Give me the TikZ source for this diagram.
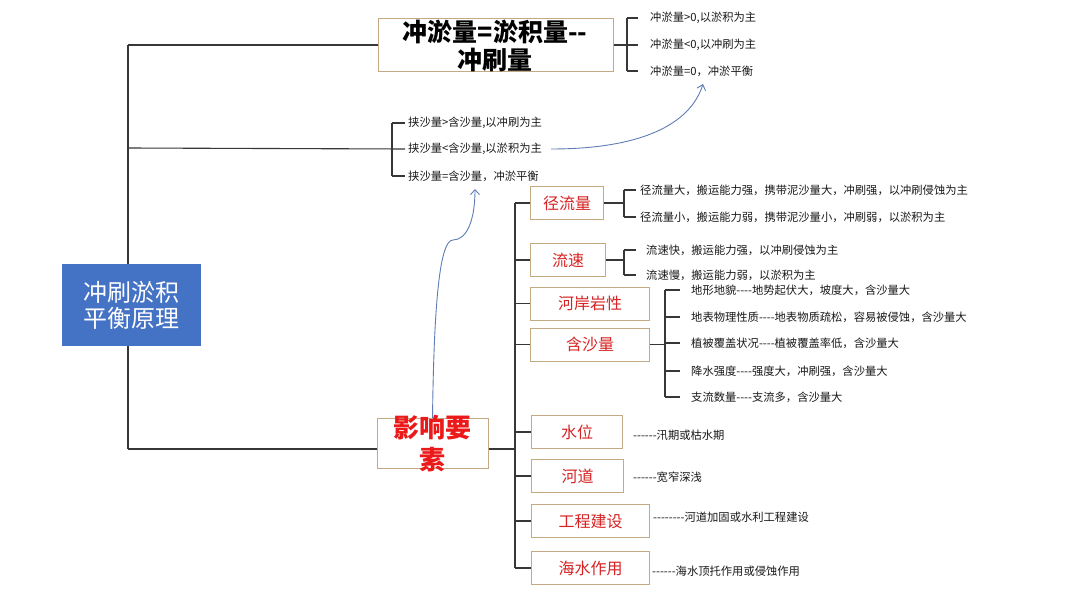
\documentclass[tikz,border=0pt]{standalone}
\usepackage{fontspec}
\setmainfont{Noto Sans CJK SC}
\usetikzlibrary{arrows.meta}
\newcommand\hh{\mbox{-}}
\definecolor{rootblue}{RGB}{68,114,196}
\definecolor{boxedge}{RGB}{196,170,130}
\definecolor{redtxt}{RGB}{215,35,35}
\definecolor{bigred}{RGB}{235,25,25}
\definecolor{arrowblue}{RGB}{95,125,180}
\definecolor{linegray}{RGB}{55,55,55}
\begin{document}
\begin{tikzpicture}[x=1pt,y=-1pt,
  conn/.style={draw=linegray, line width=1.1pt},
  tanbox/.style={draw=boxedge, line width=1pt, fill=white, inner sep=0pt},
  kid/.style={tanbox, text=redtxt, font=\fontsize{16}{18}\selectfont, anchor=west, minimum height=33pt},
  leaf/.style={anchor=west, inner sep=0pt, font=\fontsize{11.3}{12}\selectfont, text=black!90},
  flow/.style={draw=arrowblue, line width=0.9pt, -{Straight Barb[length=5pt,width=9pt]}},
]
\fill[white] (0,0) rectangle (1080,608);
\useasboundingbox (0,0) rectangle (1080,608);

% trunk coordinates
\coordinate (t1) at (128,45);
\coordinate (t2) at (128,148);
\coordinate (t3) at (128,449);

% root
\node[fill=rootblue, minimum width=139pt, minimum height=82pt, inner sep=0pt, text=white, align=center, font=\fontsize{24}{26}\selectfont] (root) at (131.5,305) {冲刷淤积\\平衡原理};

% top box
\node[tanbox, minimum width=235pt, minimum height=53pt] (eq) at (495.5,45) {};
\node[font=\bfseries\fontsize{25}{28}\selectfont, align=center, inner sep=0pt] (eqtext) at (495,46) {冲淤量=淤积量\hh\hh{}\\冲刷量};

% influence box
\node[tanbox, minimum width=111pt, minimum height=50pt] (inf) at (432.5,443.5) {};

% trunk lines
\draw[conn] (t1) -- (root.north -| t1);
\draw[conn] (root.south -| t1) -- (t3);
\draw[conn] (t1) -- (eq.west);
\draw[conn] (t3) -- (inf.west |- t3);

% top bracket
\coordinate (b1) at (627,45);
\node[leaf] (e1) at (650,18) {冲淤量>0,以淤积为主};
\node[leaf] (e2) at (650,45) {冲淤量<0,以冲刷为主};
\node[leaf] (e3) at (650,71) {冲淤量=0，冲淤平衡};
\draw[conn] (eq.east) -- (b1);
\draw[conn] (e1.west -| b1) -- (e3.west -| b1);
\foreach \n in {e1,e2,e3} \draw[conn] (\n.west -| b1) -- ([xshift=-12pt]\n.west);

% second bracket
\coordinate (b2) at (392,148);
\node[leaf] (s1) at (408,123) {挟沙量>含沙量,以冲刷为主};
\node[leaf] (s2) at (408,149) {挟沙量<含沙量,以淤积为主};
\node[leaf] (s3) at (408,176) {挟沙量=含沙量，冲淤平衡};
\draw[conn] (t2) -- ([xshift=-3pt]s2.west);
\draw[conn] (s1.west -| b2) -- (s3.west -| b2);
\foreach \n in {s1,s3} \draw[conn] (\n.west -| b2) -- ([xshift=-3pt]\n.west);

% blue arrows
\coordinate (a1) at (703,84);
\draw[flow] ([xshift=9pt]s2.east) .. controls (640,149) and (690,125) .. (a1);
\coordinate (a2) at (475,189);
\draw[flow] (inf.north) .. controls (434,300) and (440,240) .. (453,240) .. controls (466,240) and (475,222) .. (a2);

\node[text=bigred, font=\bfseries\fontsize{26}{32}\selectfont, align=center, inner sep=0pt] (inftext) at (432,444) {影响要\\素};

% spine
\coordinate (sp1) at (515,203);
\coordinate (sp2) at (515,568);
\coordinate (spm) at (515,449);
\draw[conn] (inf.east |- t3) -- (spm);
\draw[conn] (sp1) -- (sp2);

% kid boxes
\node[kid, minimum width=73pt] (k1) at (530,203) {径流量};
\node[kid, minimum width=75pt] (k2) at (530,260) {流速};
\node[kid, minimum width=119pt] (k3) at (530,303.5) {河岸岩性};
\node[kid, minimum width=119pt] (k4) at (530,344.5) {含沙量};
\node[kid, minimum width=91pt] (k5) at (531,432) {水位};
\node[kid, minimum width=92pt] (k6) at (531,476) {河道};
\node[kid, minimum width=118pt] (k7) at (531,521) {工程建设};
\node[kid, minimum width=118pt] (k8) at (531,568) {海水作用};
\foreach \n in {k1,k2,k3,k4,k5,k6,k7,k8} \draw[conn] (\n.west -| sp1) -- (\n.west);

% 径流量 bracket
\coordinate (c1) at (624,203);
\node[leaf] (r1) at (640,190) {径流量大，搬运能力强，携带泥沙量大，冲刷强，以冲刷侵蚀为主};
\node[leaf] (r2) at (640,217) {径流量小，搬运能力弱，携带泥沙量小，冲刷弱，以淤积为主};
\draw[conn] (k1.east) -- (c1);
\draw[conn] (r1.west -| c1) -- (r2.west -| c1);
\foreach \n in {r1,r2} \draw[conn] (\n.west -| c1) -- ([xshift=-4pt]\n.west);

% 流速 bracket
\coordinate (c2) at (624,260);
\node[leaf] (v1) at (646,250) {流速快，搬运能力强，以冲刷侵蚀为主};
\node[leaf] (v2) at (646,275) {流速慢，搬运能力弱，以淤积为主};
\draw[conn] (k2.east) -- (c2);
\draw[conn] (v1.west -| c2) -- (v2.west -| c2);
\foreach \n in {v1,v2} \draw[conn] (\n.west -| c2) -- ([xshift=-10pt]\n.west);

% 含沙量 bracket
\coordinate (c4) at (665,344.5);
\node[leaf] (h1) at (691,290) {地形地貌\hh\hh\hh\hh{}地势起伏大，坡度大，含沙量大};
\node[leaf] (h2) at (691,317) {地表物理性质\hh\hh\hh\hh{}地表物质疏松，容易被侵蚀，含沙量大};
\node[leaf] (h3) at (691,343) {植被覆盖状况\hh\hh\hh\hh{}植被覆盖率低，含沙量大};
\node[leaf] (h4) at (691,371) {降水强度\hh\hh\hh\hh{}强度大，冲刷强，含沙量大};
\node[leaf] (h5) at (691,397) {支流数量\hh\hh\hh\hh{}支流多，含沙量大};
\draw[conn] (k4.east) -- (c4);
\draw[conn] (h1.west -| c4) -- (h5.west -| c4);
\foreach \n in {h1,h2,h3,h4,h5} \draw[conn] (\n.west -| c4) -- ([xshift=-11pt]\n.west);

% other leaves
\node[leaf] (w1) at (633,435) {\hh\hh\hh\hh\hh\hh{}汛期或枯水期};
\node[leaf] (w2) at (633,477) {\hh\hh\hh\hh\hh\hh{}宽窄深浅};
\node[leaf] (w3) at (653,517) {\hh\hh\hh\hh\hh\hh\hh\hh{}河道加固或水利工程建设};
\node[leaf] (w4) at (652,571) {\hh\hh\hh\hh\hh\hh{}海水顶托作用或侵蚀作用};
\end{tikzpicture}
\end{document}
